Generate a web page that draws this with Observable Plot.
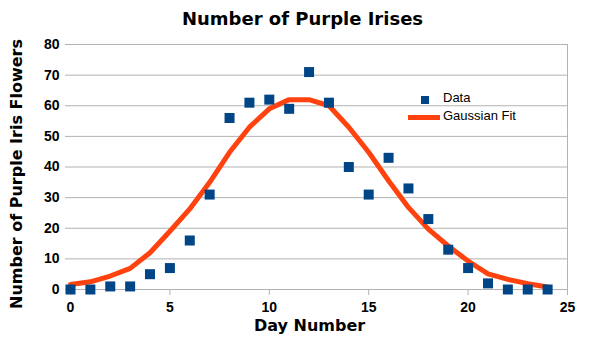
<!DOCTYPE html>
<html>
<head>
<meta charset="utf-8">
<script src="https://cdn.jsdelivr.net/npm/d3@7"></script>
<script src="https://cdn.jsdelivr.net/npm/@observablehq/plot@0.6"></script>
<style>
  html, body { margin: 0; padding: 0; background: #fff; }
  #wrap { position: relative; width: 605px; height: 340px; overflow: hidden; }
  #chart svg text { font-size: 14px; font-weight: bold; font-family: "Liberation Sans", Arial, sans-serif; }
  .title { position: absolute; left: 0; width: 605px; top: 8px; line-height: 21px; text-align: center;
    font-family: "DejaVu Sans", sans-serif; font-weight: bold; font-size: 18px; color: #000; }
  .xlab { position: absolute; left: 254px; width: 111px; top: 318px; line-height: 16px; text-align: center; white-space: nowrap;
    font-family: "DejaVu Sans", sans-serif; font-weight: bold; font-size: 16px; color: #000; }
  .ylab { position: absolute; left: 17px; top: 174px; line-height: 16px; transform: translate(-50%, -50%) rotate(-90deg);
    white-space: nowrap; font-family: "DejaVu Sans", sans-serif; font-weight: bold; font-size: 16px; color: #000; }
  .leg { position: absolute; font-family: "Liberation Sans", Arial, sans-serif; font-size: 13px; color: #000; white-space: nowrap; }
  .sw-sq { position: absolute; width: 8px; height: 8px; background: #004586; }
  .sw-ln { position: absolute; width: 32px; height: 5px; background: #ff420e; }
</style>
</head>
<body>
<div id="wrap">
  <div id="chart"></div>
  <div class="title">Number of Purple Irises</div>
  <div class="xlab">Day Number</div>
  <div class="ylab">Number of Purple Iris Flowers</div>
  <div class="sw-sq" style="left:421px;top:96px;"></div>
  <div class="leg" style="left:443px;top:90px;">Data</div>
  <div class="sw-ln" style="left:408px;top:115px;"></div>
  <div class="leg" style="left:443px;top:108px;">Gaussian Fit</div>
</div>
<script>
const days = [0,1,2,3,4,5,6,7,8,9,10,11,12,13,14,15,16,17,18,19,20,21,22,23,24];
const counts = [0,0,1,1,5,7,16,31,56,61,62,59,71,61,40,31,43,33,23,13,7,2,0,0,0];
const fitValues = [1.6,2.5,4.4,6.9,12,19,26.3,35,44.8,53,59,62,62,60,53,44.8,35.5,26.8,19.7,14.2,9.3,5.1,3.3,1.9,0.8];
const xTicks = [0,5,10,15,20,25];
const yTicks = [0,10,20,30,40,50,60,70,80];

const dataRows = days.map((d, i) => ({day: d, count: counts[i]}));
const fitRows = days.map((d, i) => ({day: d, fit: fitValues[i]}));

const grid = "#b3b3b3";

const chart = Plot.plot({
  width: 605,
  height: 340,
  marginLeft: 70,
  marginRight: 38,
  marginTop: 44,
  marginBottom: 51,
  style: {fontFamily: "'Liberation Sans', Arial, sans-serif", fontSize: "14px", fontWeight: "bold", color: "#000", background: "#fff"},
  x: {domain: [0, 25]},
  y: {domain: [0, 80]},
  marks: [
    Plot.gridY(yTicks, {stroke: grid, strokeOpacity: 1, strokeWidth: 1}),
    Plot.ruleX([25], {stroke: grid, strokeWidth: 1}),
    Plot.axisY(yTicks, {tickSize: 5, tickPadding: 6, stroke: grid, label: null, fill: "#000", fontSize: 14, fontWeight: "bold"}),
    Plot.axisX(xTicks, {tickSize: 6, tickPadding: 7, stroke: grid, label: null, fill: "#000", fontSize: 14, fontWeight: "bold"}),
    Plot.line(fitRows, {x: "day", y: "fit", stroke: "#ff420e", strokeWidth: 5, strokeLinejoin: "round"}),
    Plot.dot(dataRows, {x: "day", y: "count", symbol: "square", r: 5.64, fill: "#004586", stroke: "none"})
  ]
});
document.getElementById("chart").appendChild(chart);
</script>
</body>
</html>
